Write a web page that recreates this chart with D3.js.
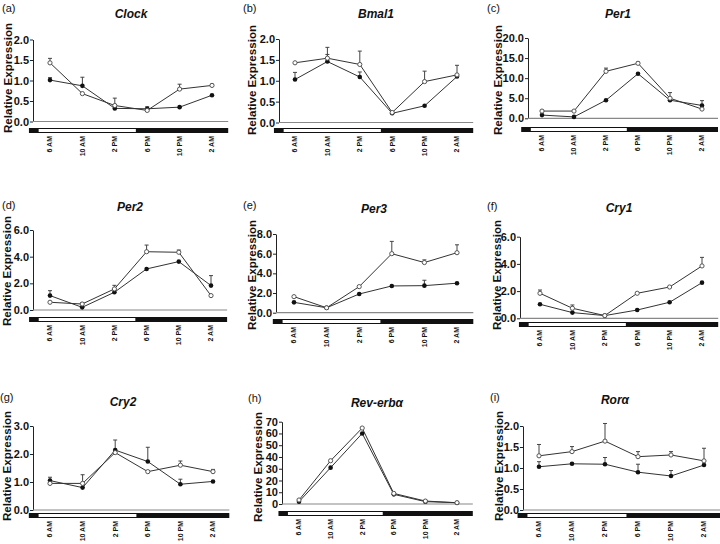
<!DOCTYPE html>
<html><head><meta charset="utf-8">
<script src="https://cdn.jsdelivr.net/npm/d3@7"></script>
<style>
body{margin:0;background:#fff}
svg{display:block}
text{font-family:"Liberation Sans",Arial,Helvetica,sans-serif;fill:#111}
</style>
</head><body><svg width="720" height="544"></svg>
<script>
// ---- categories / ticks ----
const timeLabels = ["6 AM","10 AM","2 PM","6 PM","10 PM","2 AM"];
const timeHours  = [6,10,14,18,22,26];
const lightsOn = 4.6, lightsOff = 16.6, barFrom = 3.4, barTo = 28;

const genes   = ["Clock","Bmal1","Per1","Per2","Per3","Cry1","Cry2","Rev-erb\u03b1","Ror\u03b1"];
const letters = ["(a)","(b)","(c)","(d)","(e)","(f)","(g)","(h)","(i)"];
const yMax    = [2,2,20,6,8,6,3,70,2];
const yStep   = [0.5,0.5,5,2,2,2,1,10,0.5];
const yDigits = [1,1,1,1,1,1,1,0,1];

// ---- series values (open = open circles, filled = filled circles), with upper SEM ----
const clockOpen      = [1.43,0.68,0.39,0.27,0.79,0.88];
const clockOpenSem   = [0.11,0,0.18,0,0.12,0.03];
const clockFilled    = [1.01,0.87,0.32,0.31,0.35,0.64];
const clockFilledSem = [0.06,0.21,0,0.05,0,0];

const bmal1Open      = [1.43,1.54,1.39,0.24,0.98,1.14];
const bmal1OpenSem   = [0,0.26,0.32,0,0.25,0.23];
const bmal1Filled    = [1.03,1.46,1.09,0.22,0.40,1.10];
const bmal1FilledSem = [0.17,0.17,0.12,0,0,0];

const per1Open      = [1.8,1.8,11.7,13.7,5.0,2.3];
const per1OpenSem   = [0.2,0.1,0.8,0.3,1.4,0];
const per1Filled    = [0.8,0.35,4.5,11.1,4.5,3.2];
const per1FilledSem = [0,0,0,0,0,1.2];

const per2Open      = [0.58,0.45,1.58,4.37,4.33,1.08];
const per2OpenSem   = [0,0.1,0.27,0.5,0.17,0];
const per2Filled    = [1.08,0.2,1.33,3.08,3.63,1.83];
const per2FilledSem = [0.37,0,0,0,0,0.75];

const per3Open      = [1.63,0.5,2.65,6.0,5.1,6.1];
const per3OpenSem   = [0,0,0,1.25,0.27,0.8];
const per3Filled    = [1.05,0.5,1.9,2.72,2.75,3.0];
const per3FilledSem = [0,0,0,0,0.55,0];

const cry1Open      = [1.84,0.74,0.2,1.84,2.3,3.85];
const cry1OpenSem   = [0.24,0.24,0,0,0,0.63];
const cry1Filled    = [1.03,0.42,0.2,0.61,1.18,2.62];
const cry1FilledSem = [0,0,0,0,0,0];

const cry2Open      = [0.95,0.95,2.05,1.37,1.6,1.37];
const cry2OpenSem   = [0,0.31,0,0,0.15,0.08];
const cry2Filled    = [1.05,0.8,2.14,1.73,0.92,1.02];
const cry2FilledSem = [0.12,0,0.36,0.51,0.18,0];

const revOpen      = [3.4,36.8,64.6,9.0,2.5,1.1];
const revOpenSem   = [0,0,0,0,0,0];
const revFilled    = [2.0,30.9,60.0,8.2,2.0,1.1];
const revFilledSem = [0,0,0,0,0,0];

const roraOpen      = [1.29,1.39,1.64,1.27,1.31,1.17];
const roraOpenSem   = [0.27,0.12,0.42,0.12,0.08,0.30];
const roraFilled    = [1.03,1.10,1.09,0.90,0.81,1.07];
const roraFilledSem = [0.12,0,0.16,0.19,0.13,0];

const openSeries   = [clockOpen,bmal1Open,per1Open,per2Open,per3Open,cry1Open,cry2Open,revOpen,roraOpen];
const openSems     = [clockOpenSem,bmal1OpenSem,per1OpenSem,per2OpenSem,per3OpenSem,cry1OpenSem,cry2OpenSem,revOpenSem,roraOpenSem];
const filledSeries = [clockFilled,bmal1Filled,per1Filled,per2Filled,per3Filled,cry1Filled,cry2Filled,revFilled,roraFilled];
const filledSems   = [clockFilledSem,bmal1FilledSem,per1FilledSem,per2FilledSem,per3FilledSem,cry1FilledSem,cry2FilledSem,revFilledSem,roraFilledSem];

// ---- layout (pixels) ----
const layout = [
 {ax:33,  top:39.5, base:121.5, x0:50,  x1:212, barY:128, tX:131, tY:18,  lX:2,   lY:12,  yX:8,   yY:78},
 {ax:279, top:39,   base:122.5, x0:295, x1:457, barY:128, tX:376, tY:18,  lX:243, lY:12,  yX:252, yY:80},
 {ax:528, top:38,   base:118.3, x0:542, x1:702, barY:127, tX:618, tY:18,  lX:487, lY:12,  yX:498, yY:80},
 {ax:33,  top:230,  base:310,   x0:50,  x1:211, barY:317, tX:130, tY:211, lX:2,   lY:209, yX:7,   yY:271},
 {ax:276, top:234,  base:312.7, x0:294, x1:457, barY:319, tX:374, tY:213, lX:243, lY:209, yX:252, yY:275},
 {ax:520, top:236.7,base:318.3, x0:540, x1:702, barY:322, tX:619, tY:212, lX:487, lY:210, yX:497, yY:275},
 {ax:33,  top:426,  base:510,   x0:50,  x1:213, barY:513, tX:123, tY:406, lX:0,   lY:401, yX:7,   yY:466},
 {ax:282, top:421.7,base:504,   x0:299, x1:457, barY:511, tX:377, tY:407, lX:248, lY:402, yX:258, yY:467},
 {ax:523, top:426,  base:510,   x0:539, x1:704, barY:513, tX:615, tY:404, lX:490, lY:401, yX:499, yY:466}
];

const svg = d3.select("svg");

genes.forEach((gene, i) => {
  const L = layout[i];
  const g = svg.append("g");
  const x = d3.scaleLinear().domain([timeHours[0], timeHours[5]]).range([L.x0, L.x1]);
  const y = d3.scaleLinear().domain([0, yMax[i]]).range([L.base, L.top]);

  // panel letter & title
  g.append("text").attr("x", L.lX).attr("y", L.lY).style("font-size","11px").text(letters[i]);
  g.append("text").attr("x", L.tX).attr("y", L.tY).attr("text-anchor","middle")
    .style("font-size","12px").style("font-weight","bold").style("font-style","italic").text(gene);

  // y label
  g.append("text").attr("transform", `translate(${L.yX},${L.yY}) rotate(-90)`)
    .attr("text-anchor","middle").attr("dy","0.35em")
    .style("font-size","11.6px").style("font-weight","bold").text("Relative Expression");

  // y axis
  const ticks = d3.range(0, yMax[i] + yStep[i]/2, yStep[i]);
  const yAxis = d3.axisLeft(y).tickValues(ticks).tickSize(3).tickSizeOuter(0)
    .tickFormat(d => d.toFixed(yDigits[i]));
  const ga = g.append("g").attr("transform", `translate(${L.ax},0)`).call(yAxis);
  ga.select(".domain").attr("stroke","#222");
  ga.selectAll(".tick line").attr("stroke","#222");
  ga.selectAll(".tick text").attr("x",-4).style("font-size","11px").style("font-weight","bold")
    .style("font-family",'"Liberation Sans",Arial,sans-serif').attr("fill","#111");

  // x baseline
  g.append("line").attr("x1", L.ax).attr("x2", x(barTo)).attr("y1", y(0)).attr("y2", y(0))
    .attr("stroke","#888").attr("stroke-width",1.2);

  // light/dark bar
  g.append("rect").attr("x", x(barFrom)).attr("y", L.barY).attr("width", x(barTo)-x(barFrom)).attr("height",5).attr("fill","#111");
  g.append("rect").attr("x", x(lightsOn)).attr("y", L.barY+1).attr("width", x(lightsOff)-x(lightsOn)).attr("height",3).attr("fill","#fff");

  // x tick labels
  timeLabels.forEach((t, k) => {
    g.append("text").attr("transform", `translate(${x(timeHours[k])},${L.barY+8}) rotate(-90)`)
      .attr("text-anchor","end").attr("dy","0.35em")
      .style("font-size","7px").style("font-weight","bold").text(t);
  });

  const line = d3.line().x((d,k) => x(timeHours[k])).y(d => y(d));
  const drawSeries = (vals, sems, filled) => {
    g.append("path").datum(vals).attr("d", line).attr("fill","none").attr("stroke","#333").attr("stroke-width",1);
    vals.forEach((v, k) => {
      if (sems[k] > 0) {
        const cx = x(timeHours[k]);
        g.append("line").attr("x1",cx).attr("x2",cx).attr("y1",y(v)).attr("y2",y(v+sems[k])).attr("stroke","#444").attr("stroke-width",1);
        g.append("line").attr("x1",cx-2).attr("x2",cx+2).attr("y1",y(v+sems[k])).attr("y2",y(v+sems[k])).attr("stroke","#444").attr("stroke-width",1);
      }
    });
  };
  drawSeries(filledSeries[i], filledSems[i], true);
  drawSeries(openSeries[i], openSems[i], false);
  g.selectAll(null).data(filledSeries[i]).enter().append("circle")
    .attr("cx",(d,k)=>x(timeHours[k])).attr("cy",d=>y(d)).attr("r",2.3).attr("fill","#111");
  g.selectAll(null).data(openSeries[i]).enter().append("circle")
    .attr("cx",(d,k)=>x(timeHours[k])).attr("cy",d=>y(d)).attr("r",2.1).attr("fill","#fff").attr("stroke","#555").attr("stroke-width",1);
});
</script>
</body></html>
